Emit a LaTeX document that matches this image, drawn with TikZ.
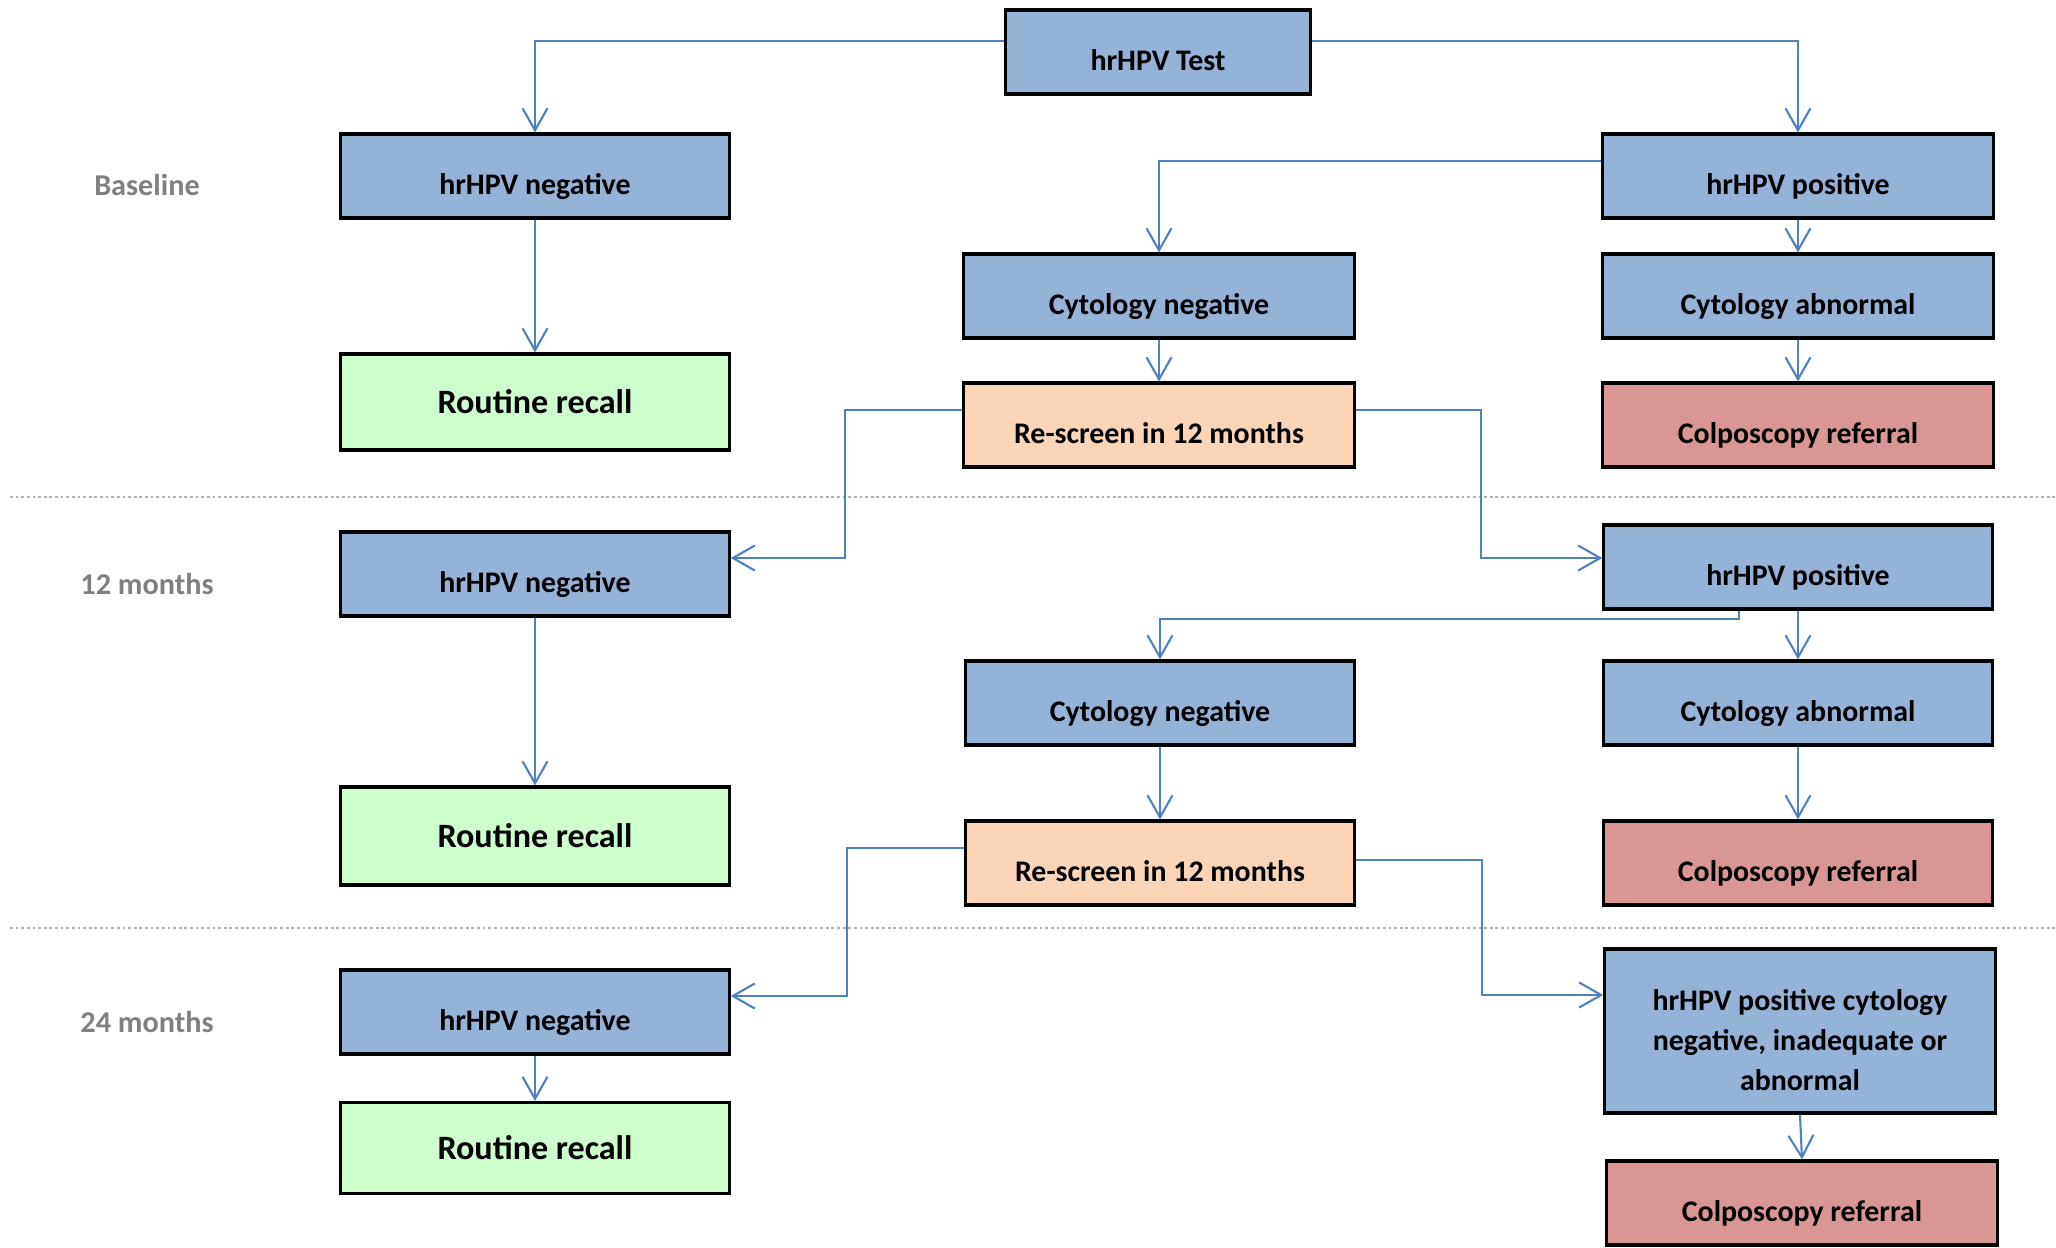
\documentclass[tikz,border=0pt]{standalone}
\usepackage{fontspec}
\setmainfont{Carlito}
\usetikzlibrary{arrows.meta}

\definecolor{hpvblue}{RGB}{149,179,215}
\definecolor{recallgreen}{RGB}{204,255,204}
\definecolor{rescreenpeach}{RGB}{251,213,181}
\definecolor{colpored}{RGB}{217,150,148}
\definecolor{lineblue}{RGB}{79,129,189}
\definecolor{periodgray}{RGB}{128,128,128}

\begin{document}
\begin{tikzpicture}[x=0.01cm, y=-0.01cm,
        >={Straight Barb[length=2.2mm, width=2.5mm]},
        box/.style={draw=black, line width=0.9pt, minimum width=3.88cm, minimum height=0.84cm,
            inner sep=0pt, font=\bfseries\fontsize{8.5}{11.4}\selectfont},
        low/.style={text height=3.6mm, text depth=0pt},
        hpv/.style={box, low, fill=hpvblue},
        recall/.style={box, fill=recallgreen, minimum height=0.96cm, font=\bfseries\fontsize{9.7}{12}\selectfont},
        rescreen/.style={box, low, fill=rescreenpeach},
        colpo/.style={box, low, fill=colpored},
        flow/.style={->, draw=lineblue, line width=0.6pt},
        divider/.style={draw=black!30, dash pattern=on 0.8pt off 0.8pt, line width=0.7pt},
        period/.style={text=periodgray, font=\bfseries\fontsize{8.6}{10}\selectfont}]
        \useasboundingbox (0,0) rectangle (2056,1247);

        % time periods
        \node[period] (lbase) at (147,185) {Baseline};
        \node[period] (l12) at (147,584) {12 months};
        \node[period] (l24) at (147,1022) {24 months};
        \draw[divider] (10,497) -- (2056,497);
        \draw[divider] (10,928) -- (2056,928);

        % baseline
        \node[hpv, minimum width=3.05cm] (test) at (1158,52) {hrHPV Test};
        \node[hpv] (neg1) at (535,176) {hrHPV negative};
        \node[recall] (rec1) at (535,402) {Routine recall};
        \node[hpv, minimum width=3.9cm] (pos1) at (1798,176) {hrHPV positive};
        \node[hpv, minimum width=3.9cm] (cneg1) at (1159,296) {Cytology negative};
        \node[hpv, minimum width=3.9cm] (cabn1) at (1798,296) {Cytology abnormal};
        \node[rescreen, minimum width=3.9cm] (rs1) at (1159,425) {Re-screen in 12 months};
        \node[colpo, minimum width=3.9cm] (col1) at (1798,425) {Colposcopy referral};

        % 12 months
        \node[hpv] (neg2) at (535,574) {hrHPV negative};
        \node[recall, minimum height=0.98cm] (rec2) at (535,836) {Routine recall};
        \node[hpv, minimum width=3.88cm] (pos2) at (1798,567) {hrHPV positive};
        \node[hpv] (cneg2) at (1160,703) {Cytology negative};
        \node[hpv] (cabn2) at (1798,703) {Cytology abnormal};
        \node[rescreen] (rs2) at (1160,863) {Re-screen in 12 months};
        \node[colpo] (col2) at (1798,863) {Colposcopy referral};

        % 24 months
        \node[hpv] (neg3) at (535,1012) {hrHPV negative};
        \node[recall, minimum height=0.91cm] (rec3) at (535,1148) {Routine recall};
        \node[box, fill=hpvblue, minimum width=3.9cm, minimum height=1.64cm, align=center,
            text height=33.8pt] (final) at (1800,1031) {hrHPV positive cytology\\negative, inadequate or\\abnormal};
        \node[colpo, minimum width=3.9cm] (col3) at (1802,1203) {Colposcopy referral};

        % connectors
        \draw[flow] ([yshift=.11cm]test.west) -| (neg1.north);
        \draw[flow] ([yshift=.11cm]test.east) -| (pos1.north);
        \draw[flow] (neg1.south) -- (rec1.north);
        \draw[flow] ([yshift=.15cm]pos1.west) -| (cneg1.north);
        \draw[flow] (pos1.south) -- (cabn1.north);
        \draw[flow] (cneg1.south) -- (rs1.north);
        \draw[flow] (cabn1.south) -- (col1.north);
        \draw[flow] ([yshift=.15cm]rs1.west) -- ++(-117,0) |- ([yshift=.16cm]neg2.east);
        \draw[flow] ([yshift=.15cm]rs1.east) -- ++(125,0) |- ([yshift=.09cm]pos2.west);
        \draw[flow] (neg2.south) -- (rec2.north);
        \draw[flow] ([xshift=-.59cm]pos2.south) -- ++(0,8) -| (cneg2.north);
        \draw[flow] (pos2.south) -- (cabn2.north);
        \draw[flow] (cneg2.south) -- (rs2.north);
        \draw[flow] (cabn2.south) -- (col2.north);
        \draw[flow] ([yshift=.15cm]rs2.west) -- ++(-117,0) |- ([yshift=.16cm]neg3.east);
        \draw[flow] ([yshift=.03cm]rs2.east) -- ++(126,0) |- ([yshift=.36cm]final.west);
        \draw[flow] (neg3.south) -- (rec3.north);
        \draw[flow] (final.south) -- (col3.north);
    \end{tikzpicture}
\end{document}
